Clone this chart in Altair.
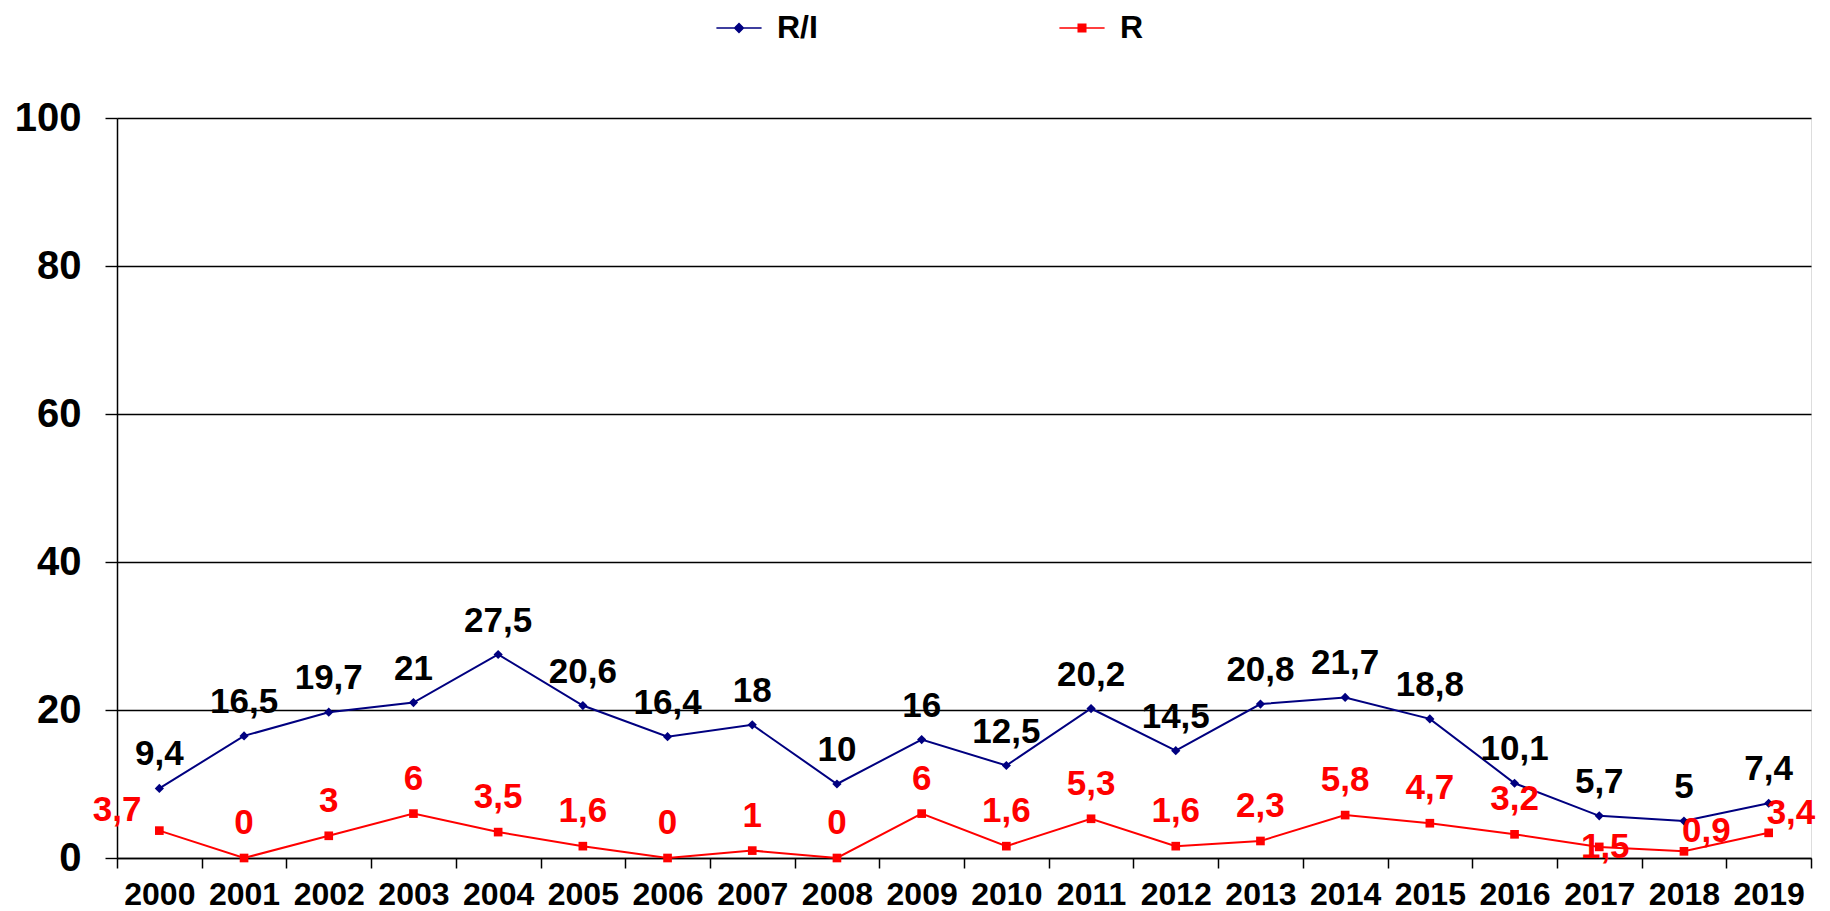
import altair as alt
import pandas as pd

years = [str(y) for y in range(2000, 2020)]
ri_values = [9.4, 16.5, 19.7, 21, 27.5, 20.6, 16.4, 18, 10, 16, 12.5, 20.2, 14.5, 20.8, 21.7, 18.8, 10.1, 5.7, 5, 7.4]
r_values = [3.7, 0, 3, 6, 3.5, 1.6, 0, 1, 0, 6, 1.6, 5.3, 1.6, 2.3, 5.8, 4.7, 3.2, 1.5, 0.9, 3.4]
series_names = ["R/I", "R"]
series_colors = ["#000080", "#FF0000"]
y_ticks = [0, 20, 40, 60, 80, 100]

rows = []
for name, vals in zip(series_names, [ri_values, r_values]):
    for y, v in zip(years, vals):
        rows.append({"series": name, "year": y, "value": v,
                     "label": f"{v:g}".replace(".", ",")})
df = pd.DataFrame(rows)

FONT = "Liberation Sans"

x_enc = alt.X("year:O", sort=years,
              scale=alt.Scale(type="band", paddingInner=0, paddingOuter=0, domain=years),
              bandPosition=0.5,
              axis=alt.Axis(title=None, tickBand="extent", grid=False, labelAngle=0,
                            labelFont=FONT, labelFontSize=32, labelFontWeight="bold",
                            labelColor="black", tickColor="black", tickSize=10, tickWidth=1.5,
                            domainColor="black", domainWidth=1.5, labelPadding=11,
                            labelOverlap=False))
y_enc = alt.Y("value:Q",
              scale=alt.Scale(domain=[0, 100], nice=False, zero=True),
              axis=alt.Axis(title=None, values=y_ticks, grid=True, gridColor="black",
                            gridWidth=1.4, gridOpacity=1, labelFont=FONT, labelFontSize=40,
                            labelFontWeight="bold", labelColor="black", tickColor="black",
                            tickSize=12, tickWidth=1.4, domainColor="black", domainWidth=1.5,
                            labelPadding=24, labelOverlap=False))

color_scale = alt.Scale(domain=series_names, range=series_colors)

L = 5.4
diamond_path = f"M-{L},0H{L}M0,-1.05L1.05,0L0,1.05L-1.05,0Z"
square_path = f"M-{L},0H{L}M-0.9,-0.9H0.9V0.9H-0.9Z"

base = alt.Chart(df)

legend_layer = base.transform_filter("false").mark_point(
    filled=True, size=70, strokeWidth=2, opacity=1
).encode(
    x=x_enc, y=y_enc,
    color=alt.Color("series:N", scale=color_scale,
                    legend=alt.Legend(title=None, orient="none", direction="horizontal",
                                      legendX=606, legendY=-106, labelFont=FONT,
                                      labelFontSize=32, labelFontWeight="bold",
                                      labelColor="black", labelOffset=22,
                                      columnPadding=238, padding=0, symbolSize=70)),
    stroke=alt.Stroke("series:N", scale=color_scale),
    shape=alt.Shape("series:N", scale=alt.Scale(domain=series_names,
                                                range=[diamond_path, square_path])),
)

lines = base.mark_line(strokeWidth=2).encode(
    x=x_enc, y=y_enc,
    color=alt.Color("series:N", scale=color_scale, legend=None),
)

ri_points = base.transform_filter(alt.datum.series == "R/I").mark_point(
    shape="diamond", filled=True, size=85, color="#000080", opacity=1
).encode(x=x_enc, y=y_enc)

r_points = base.transform_filter(alt.datum.series == "R").mark_point(
    shape="square", filled=True, size=75, color="#FF0000", opacity=1
).encode(x=x_enc, y=y_enc)

text_style = dict(font=FONT, fontSize=35, fontWeight="bold")

ri_labels = base.transform_filter(alt.datum.series == "R/I").mark_text(
    color="black", dy=-23, baseline="alphabetic", align="center", **text_style
).encode(x=x_enc, y=y_enc, text="label:N")

r_data = base.transform_filter(alt.datum.series == "R")

r_labels = r_data.transform_filter(
    "indexof(['2000','2017','2018','2019'], datum.year) < 0"
).mark_text(color="#FF0000", dy=-24, baseline="alphabetic", align="center", **text_style
).encode(x=x_enc, y=y_enc, text="label:N")

r_label_left = r_data.transform_filter(alt.datum.year == "2000").mark_text(
    color="#FF0000", dx=-18, dy=-10, baseline="alphabetic", align="right", **text_style
).encode(x=x_enc, y=y_enc, text="label:N")

r_label_center = r_data.transform_filter(alt.datum.year == "2017").mark_text(
    color="#FF0000", dx=6, dy=0, baseline="middle", align="center", **text_style
).encode(x=x_enc, y=y_enc, text="label:N")

r_label_right = r_data.transform_filter(
    "datum.year == '2018' || datum.year == '2019'"
).mark_text(color="#FF0000", dx=-2, dy=-9, baseline="alphabetic", align="left", **text_style
).encode(x=x_enc, y=y_enc, text="label:N")

chart = alt.layer(
    legend_layer, lines, ri_points, r_points, ri_labels, r_labels,
    r_label_left, r_label_center, r_label_right
).properties(
    width=1694, height=740,
    autosize=alt.AutoSizeParams(type="none"),
    padding={"left": 109, "top": 110, "right": 10, "bottom": 52},
).configure_view(stroke=None).configure(background="white")

chart.save("out.html", embed_options={"renderer": "svg", "actions": False})
